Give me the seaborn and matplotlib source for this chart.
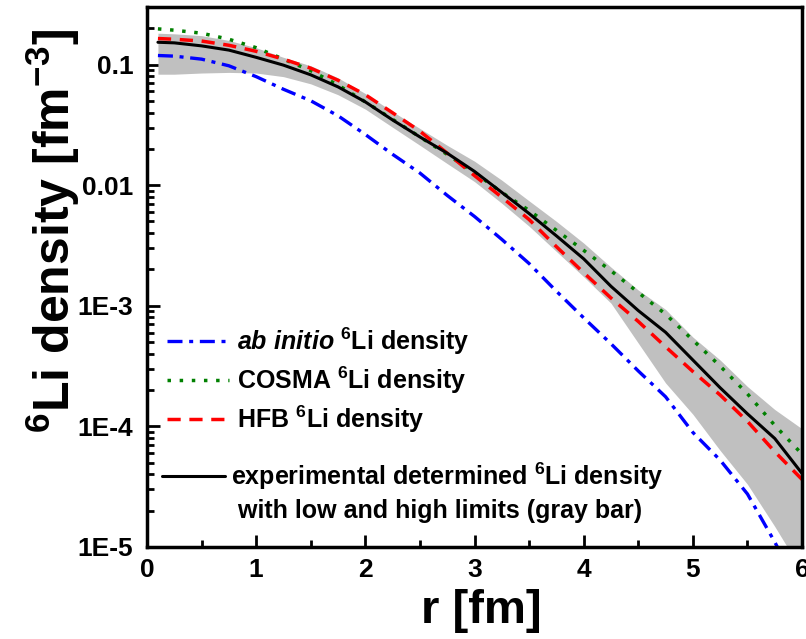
import numpy as np
import pandas as pd
import matplotlib
matplotlib.use("Agg")
import matplotlib.pyplot as plt
import seaborn as sns
from matplotlib.lines import Line2D
from matplotlib.ticker import LogLocator, NullFormatter, MultipleLocator

# --- values (density in fm^-3)
r = [0.1, 0.25, 0.5, 0.75, 1.0, 1.25, 1.5, 1.75, 2.0, 2.25, 2.5, 2.75, 3.0,
     3.25, 3.5, 3.75, 4.0, 4.25, 4.5, 4.75, 5.0, 5.25, 5.5, 5.75, 6.0]

ab_initio = [0.1189, 0.1175, 0.1109, 0.0977, 0.0794, 0.0624, 0.0501, 0.0376,
             0.0263, 0.0180, 0.0126, 8.22e-3, 5.50e-3, 3.55e-3, 2.24e-3,
             1.32e-3, 7.94e-4, 4.84e-4, 2.88e-4, 1.76e-4, 8.91e-5, 5.25e-5,
             2.75e-5, 1.10e-5, 4.0e-6]

cosma = [0.1977, 0.1928, 0.1820, 0.1622, 0.1380, 0.1109, 0.0891, 0.0676,
         0.0490, 0.0351, 0.0251, 0.0180, 0.0127, 8.71e-3, 6.17e-3, 4.22e-3,
         2.88e-3, 1.95e-3, 1.29e-3, 8.51e-4, 5.19e-4, 3.16e-4, 1.86e-4,
         1.02e-4, 5.89e-5]

hfb = [0.1644, 0.1622, 0.1567, 0.1445, 0.1288, 0.1109, 0.0933, 0.0741,
       0.0562, 0.0398, 0.0280, 0.0184, 0.0120, 7.94e-3, 5.19e-3, 3.09e-3,
       1.88e-3, 1.16e-3, 7.41e-4, 4.57e-4, 2.85e-4, 1.82e-4, 1.10e-4,
       6.17e-5, 3.63e-5]

experiment = [0.1531, 0.1514, 0.1429, 0.1318, 0.1148, 0.0989, 0.0822, 0.0653,
              0.0490, 0.0347, 0.0251, 0.0184, 0.0130, 8.71e-3, 5.82e-3,
              3.80e-3, 2.45e-3, 1.45e-3, 9.12e-4, 6.03e-4, 3.55e-4, 2.09e-4,
              1.27e-4, 7.94e-5, 4.07e-5]

exp_low = [0.0832, 0.0832, 0.0851, 0.0861, 0.0851, 0.0794, 0.0692, 0.0562,
           0.0427, 0.0302, 0.0214, 0.0151, 0.0107, 7.08e-3, 4.57e-3, 2.82e-3,
           1.74e-3, 1.05e-3, 4.90e-4, 2.29e-4, 1.26e-4, 6.31e-5, 3.31e-5,
           1.48e-5, 6.3e-6]

exp_high = [0.1820, 0.1799, 0.1738, 0.1585, 0.1380, 0.1148, 0.0977, 0.0776,
            0.0575, 0.0407, 0.0295, 0.0214, 0.0158, 0.0110, 7.41e-3, 5.01e-3,
            3.31e-3, 2.09e-3, 1.35e-3, 9.33e-4, 5.50e-4, 3.55e-4, 2.14e-4,
            1.38e-4, 9.55e-5]

ytick_values = [1e-5, 1e-4, 1e-3, 1e-2, 1e-1]
ytick_labels = ["1E-5", "1E-4", "1E-3", "0.01", "0.1"]

legend_labels = [r"$\mathit{ab\ initio}$ $^{6}$Li density",
                 r"COSMA $^{6}$Li density",
                 r"HFB $^{6}$Li density"]
exp_labels = [r"experimental determined $^{6}$Li density",
              " with low and high limits (gray bar)"]

df = pd.DataFrame({"r": r, "ab": ab_initio, "cosma": cosma, "hfb": hfb,
                   "exp": experiment, "lo": exp_low, "hi": exp_high})

sns.set_style("ticks")
plt.rcParams["font.family"] = ["Liberation Sans", "DejaVu Sans"]
plt.rcParams["font.weight"] = "bold"
plt.rcParams["axes.labelweight"] = "bold"
plt.rcParams["text.color"] = "black"
plt.rcParams["axes.labelcolor"] = "black"
plt.rcParams["axes.edgecolor"] = "black"
plt.rcParams["xtick.color"] = "black"
plt.rcParams["ytick.color"] = "black"
plt.rcParams["mathtext.fontset"] = "custom"
plt.rcParams["mathtext.rm"] = "Liberation Sans:bold"
plt.rcParams["mathtext.it"] = "Liberation Sans:italic:bold"
plt.rcParams["mathtext.bf"] = "Liberation Sans:bold"

fig = plt.figure(figsize=(8.06, 6.39), dpi=100)
ax = fig.add_axes([0.1824, 0.144, 0.8127, 0.845])

ab_style = dict(color="#0000ff", lw=2.4, linestyle=(0, (4.5, 2, 1.2, 2)))
co_style = dict(color="#008000", lw=2.5, linestyle=(0, (1, 2.5)))
hf_style = dict(color="#ff0000", lw=2.5, linestyle=(0, (3.8, 2.5)))
ex_style = dict(color="black", lw=2.2, linestyle="-")

ax.fill_between(df["r"], df["lo"], df["hi"], color="#c0c0c0", lw=0)
sns.lineplot(data=df, x="r", y="ab", ax=ax, **ab_style)
sns.lineplot(data=df, x="r", y="cosma", ax=ax, **co_style)
sns.lineplot(data=df, x="r", y="hfb", ax=ax, **hf_style)
sns.lineplot(data=df, x="r", y="exp", ax=ax, **ex_style)

ax.set_yscale("log")
ax.set_xlim(0, 6)
ax.set_ylim(1e-5, 0.3)
ax.set_yticks(ytick_values)
ax.set_yticklabels(ytick_labels)
ax.yaxis.set_minor_locator(LogLocator(base=10, subs=np.arange(2, 10)))
ax.yaxis.set_minor_formatter(NullFormatter())
ax.xaxis.set_major_locator(MultipleLocator(1))
ax.xaxis.set_minor_locator(MultipleLocator(0.5))

ax.tick_params(which="both", direction="in", top=False, right=False, width=2)
ax.tick_params(which="major", length=9)
ax.tick_params(which="minor", length=5)
ax.tick_params(axis="x", labelsize=19, pad=8)
ax.tick_params(axis="y", labelsize=19, pad=10)
for s in ax.spines.values():
    s.set_linewidth(2.5)

ax.set_xlabel("r [fm]", fontsize=34, fontweight="bold")
ax.xaxis.set_label_coords(0.51, -0.078)
ax.set_ylabel(r"$^{6}$Li density [fm$^{-3}$]", fontsize=36, fontweight="bold")
ax.yaxis.set_label_coords(-0.1, 0.585)

h1 = [Line2D([], [], **ab_style), Line2D([], [], **co_style),
      Line2D([], [], **hf_style)]
leg1 = ax.legend(h1, legend_labels, loc="upper left", bbox_to_anchor=(0.03, 0.41),
                 frameon=False, borderpad=0, borderaxespad=0, fontsize=18,
                 handlelength=2.5, handletextpad=0.3, labelspacing=0.3)
ax.add_artist(leg1)

h2 = [Line2D([], [], **ex_style), Line2D([], [], alpha=0)]
ax.legend(h2, exp_labels, loc="upper left", bbox_to_anchor=(0.023, 0.16),
          frameon=False, borderpad=0, borderaxespad=0, fontsize=18,
          handlelength=2.5, handletextpad=0.25, labelspacing=0.3)

fig.savefig("out.png", dpi=100)
